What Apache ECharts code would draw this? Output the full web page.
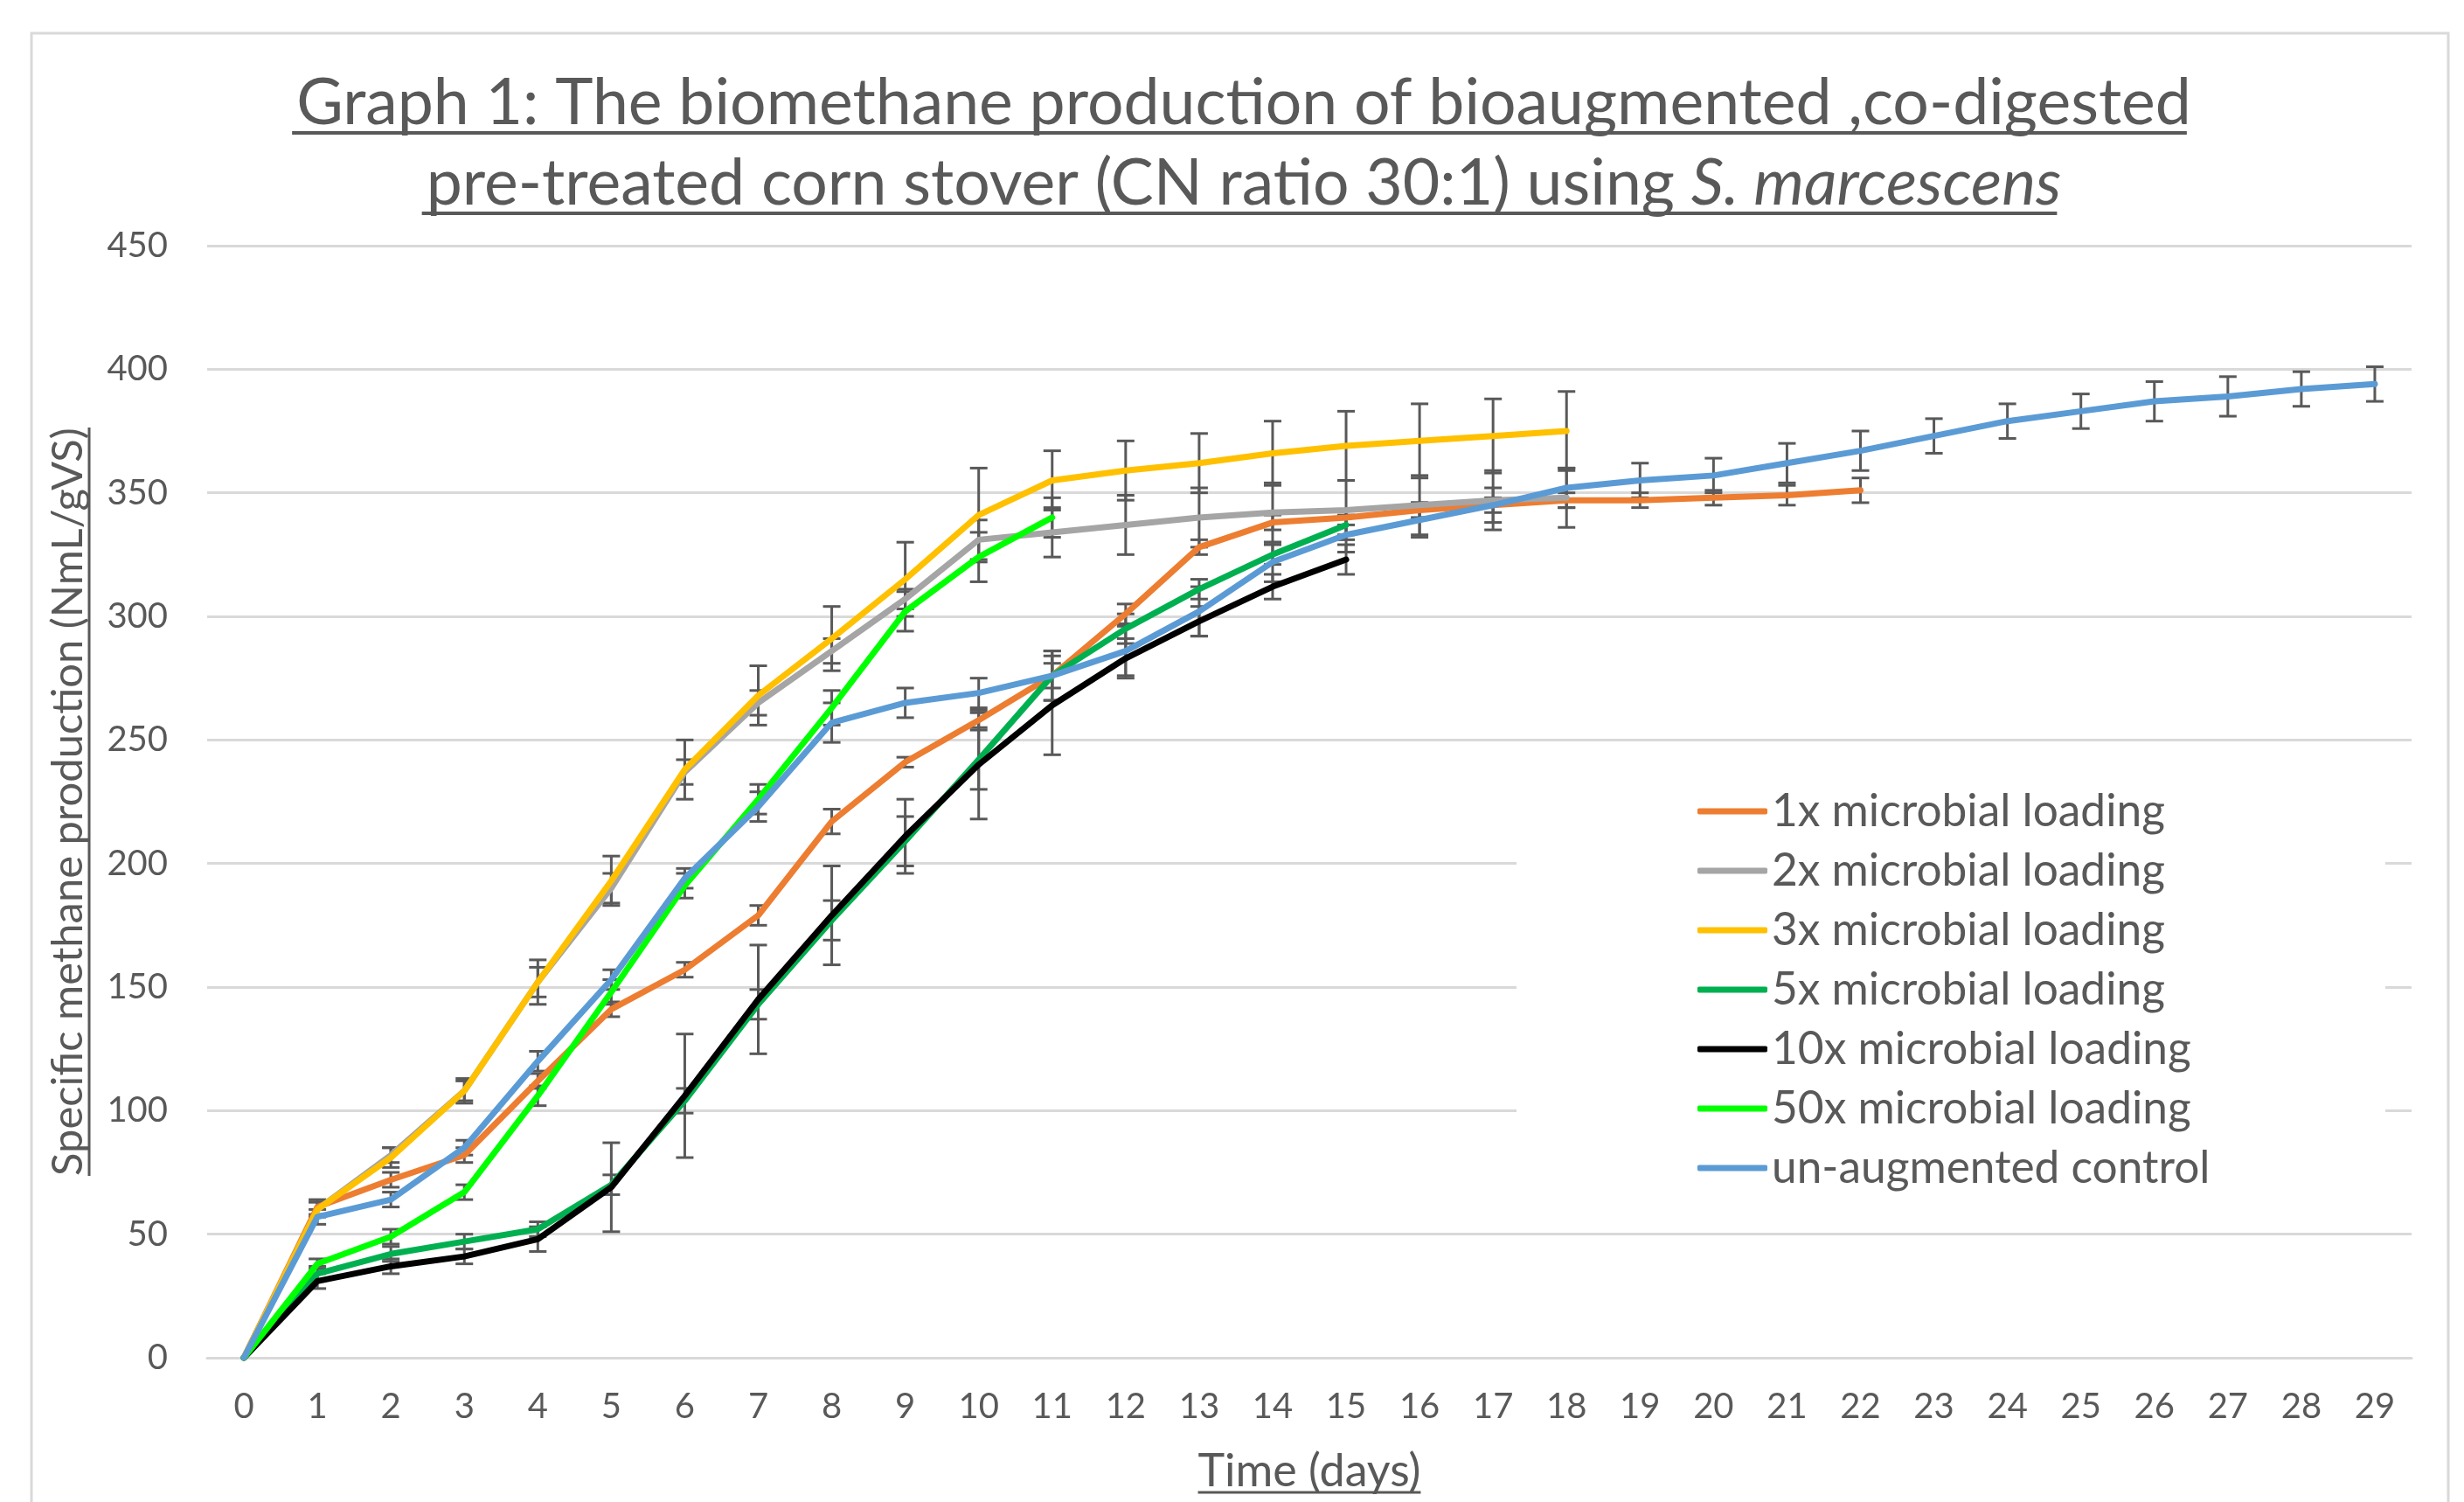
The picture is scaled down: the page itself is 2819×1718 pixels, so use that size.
<!DOCTYPE html>
<html>
<head>
<meta charset="utf-8">
<script src="https://cdn.jsdelivr.net/npm/echarts@6/dist/echarts.min.js"></script>
<style>
html,body{margin:0;padding:0;background:#fff;}
#chart{width:2819px;height:1718px;}
</style>
</head>
<body>
<div id="chart"></div>
<script>
// ---- Data ----
const days = ['0','1','2','3','4','5','6','7','8','9','10','11','12','13','14','15','16','17','18','19','20','21','22','23','24','25','26','27','28','29'];
const yTicks = [0, 50, 100, 150, 200, 250, 300, 350, 400, 450];

const load1x  = [0,61,72,82,112,141,157,179,217,241,258,276,301,328,338,340,343,345,347,347,348,349,351];
const err1x   = [0,3,3,3,3,3,3,4,5,2,3,5,4,3,3,3,3,3,3,3,3,4,5];

const load2x  = [0,60,82,108,152,190,237,265,286,307,331,334,337,340,342,343,345,347,348];
const err2x   = [0,3,3,4,6,6,5,5,5,4,8,10,12,12,12,12,12,12,12];

const load3x  = [0,60,81,108,152,193,238,268,291,315,341,355,359,362,366,369,371,373,375];
const err3x   = [0,3,4,5,9,10,12,12,13,15,19,12,12,12,13,14,15,15,16];

const load5x  = [0,34,42,47,52,70,104,143,177,209,242,276,295,311,325,337];
const err5x   = [0,3,3,3,3,4,5,6,8,10,12,10,6,4,4,4];

const load10x = [0,31,37,41,48,69,106,145,179,211,240,264,283,298,312,323];
const err10x  = [0,3,3,3,5,18,25,22,20,15,22,20,8,6,5,6];

const load50x = [0,38,49,67,106,148,191,226,263,302,324,340];
const err50x  = [0,2,3,3,4,5,5,6,7,8,10,8];

const control = [0,57,64,85,120,153,194,223,257,265,269,276,286,302,322,333,339,345,352,355,357,362,367,373,379,383,387,389,392,394];
const errCtrl = [0,3,3,3,4,4,4,6,8,6,6,10,10,10,8,7,7,7,8,7,7,8,8,7,7,7,8,8,7,7];

const seriesNames = ['1x microbial loading','2x microbial loading','3x microbial loading','5x microbial loading','10x microbial loading','50x microbial loading','un-augmented control'];
const seriesValues = [load1x, load2x, load3x, load5x, load10x, load50x, control];
const seriesErrors = [err1x, err2x, err3x, err5x, err10x, err50x, errCtrl];
const seriesColors = ['#ED7D31','#A5A5A5','#FFC000','#00B050','#000000','#00FF00','#5B9BD5'];

const titleLine1 = 'Graph 1: The biomethane production of bioaugmented ,co-digested';
const titleLine2a = 'pre-treated corn stover (CN ratio 30:1) using ';
const titleLine2b = 'S. marcescens';
const yName = 'Specific methane production (NmL/gVS)';
const xName = 'Time (days)';

// ---- Layout / style ----
const FONT = 'Lato';
const TXT = '#595959';
const GRID = {left: 237, right: 60, top: 281, bottom: 165};
const TITLE_CX = 1418;

const cv = document.createElement('canvas').getContext('2d');
function tw(font, s){ cv.font = font; return cv.measureText(s).width; }
// pick font sizes so text widths match the reference
function fitSize(text, target, italic){ return 100 * target / tw((italic ? 'italic ' : '') + '100px ' + FONT, text); }

const fsTitle = fitSize(titleLine1, 2168);
const fsLegend = fitSize(seriesNames[0], 450);
const fsY = fitSize(yName, 856);
const fsX = fitSize(xName, 255);

const wT1 = tw(fsTitle + 'px ' + FONT, titleLine1);
const wT2 = tw(fsTitle + 'px ' + FONT, titleLine2a) + tw('italic ' + fsTitle + 'px ' + FONT, titleLine2b);
const wY = tw(fsY + 'px ' + FONT, yName);
const wX = tw(fsX + 'px ' + FONT, xName);
const legendTextW = Math.max.apply(null, seriesNames.map(n => tw(fsLegend + 'px ' + FONT, n)));
const legendPadRight = Math.max(20, 994 - 207 - 80 - 5 - legendTextW);

const chart = echarts.init(document.getElementById('chart'), null, {renderer: 'canvas'});

const lineSeries = seriesNames.map((name, k) => ({
  name: name,
  type: 'line',
  data: seriesValues[k],
  symbol: 'none',
  smooth: false,
  z: 3,
  color: seriesColors[k],
  lineStyle: {width: 7, color: seriesColors[k], cap: 'round', join: 'round'},
  emphasis: {disabled: true}
}));

const errSeries = seriesNames.map((name, k) => ({
  type: 'custom',
  name: name + ' error',
  z: 2,
  silent: true,
  encode: {x: 0, y: 1},
  data: seriesValues[k].map((v, i) => [i, v, seriesErrors[k][i]]).filter(d => d[2] > 0),
  renderItem: function(params, api){
    const x = api.value(0), y = api.value(1), e = api.value(2);
    const t = api.coord([x, y + e]);
    const b = api.coord([x, y - e]);
    const hw = 10;
    const st = {stroke: '#595959', lineWidth: 3};
    return {type: 'group', children: [
      {type: 'line', shape: {x1: t[0], y1: t[1], x2: b[0], y2: b[1]}, style: st},
      {type: 'line', shape: {x1: t[0]-hw, y1: t[1], x2: t[0]+hw, y2: t[1]}, style: st},
      {type: 'line', shape: {x1: b[0]-hw, y1: b[1], x2: b[0]+hw, y2: b[1]}, style: st}
    ]};
  }
}));

const option = {
  animation: false,
  backgroundColor: '#ffffff',
  textStyle: {fontFamily: FONT, color: TXT},
  title: {
    left: TITLE_CX,
    top: 67,
    textAlign: 'center',
    text: '{n|' + titleLine1 + '}\n{n|' + titleLine2a + '}{i|' + titleLine2b + '}',
    textStyle: {
      fontWeight: 'normal',
      rich: {
        n: {fontFamily: FONT, fontSize: fsTitle, fontWeight: 'normal', color: TXT, lineHeight: 92},
        i: {fontFamily: FONT, fontSize: fsTitle, fontWeight: 'normal', color: TXT, lineHeight: 92, fontStyle: 'italic'}
      }
    }
  },
  legend: {
    orient: 'vertical',
    left: 1735,
    top: 863,
    data: seriesNames,
    selectedMode: false,
    backgroundColor: '#ffffff',
    padding: [38, legendPadRight, 30, 207],
    itemGap: 14,
    itemWidth: 80,
    itemHeight: 7,
    icon: 'roundRect',
    textStyle: {fontFamily: FONT, fontSize: fsLegend, color: TXT, lineHeight: 54}
  },
  grid: GRID,
  xAxis: {
    type: 'category',
    data: days,
    boundaryGap: true,
    axisLine: {show: true, lineStyle: {color: '#D9D9D9', width: 3}},
    axisTick: {show: false},
    axisLabel: {fontFamily: FONT, fontSize: 40, color: TXT, margin: 36, interval: 0},
    splitLine: {show: false},
    name: xName,
    nameLocation: 'middle',
    nameGap: 104,
    nameTextStyle: {fontFamily: FONT, fontSize: fsX, color: TXT}
  },
  yAxis: {
    type: 'value',
    min: yTicks[0],
    max: yTicks[yTicks.length - 1],
    interval: yTicks[1] - yTicks[0],
    axisLine: {show: false},
    axisTick: {show: false},
    axisLabel: {fontFamily: FONT, fontSize: 40, color: TXT, margin: 45},
    splitLine: {show: true, lineStyle: {color: '#D9D9D9', width: 3}},
    name: yName,
    nameLocation: 'middle',
    nameRotate: 90,
    nameGap: 134,
    nameTextStyle: {fontFamily: FONT, fontSize: fsY, color: TXT}
  },
  graphic: [
    {type: 'rect', shape: {x: 36, y: 38, width: 2765, height: 1720}, style: {fill: 'none', stroke: '#D9D9D9', lineWidth: 3}, z: -1, silent: true},
    {type: 'line', shape: {x1: TITLE_CX - wT1/2, y1: 152, x2: TITLE_CX + wT1/2, y2: 152}, style: {stroke: TXT, lineWidth: 4}, silent: true},
    {type: 'line', shape: {x1: TITLE_CX - wT2/2, y1: 244, x2: TITLE_CX + wT2/2, y2: 244}, style: {stroke: TXT, lineWidth: 4}, silent: true},
    {type: 'line', shape: {x1: 1498 - wX/2, y1: 1707, x2: 1498 + wX/2, y2: 1707}, style: {stroke: TXT, lineWidth: 3}, silent: true},
    {type: 'line', shape: {x1: 102, y1: 917 - wY/2, x2: 102, y2: 917 + wY/2}, style: {stroke: TXT, lineWidth: 3}, silent: true}
  ],
  series: errSeries.concat(lineSeries)
};

chart.setOption(option);
</script>
</body>
</html>
